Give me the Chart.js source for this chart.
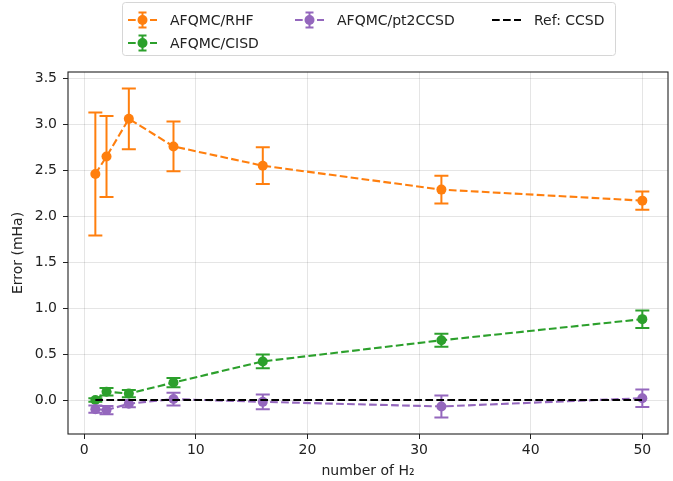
<!DOCTYPE html>
<html>
<head>
<meta charset="utf-8">
<script src="https://cdn.jsdelivr.net/npm/chart.js@4.4.1/dist/chart.umd.min.js"></script>
<style>
  html, body { margin: 0; padding: 0; background: #fff; }
</style>
</head>
<body>
<canvas id="errChart" width="673" height="481"></canvas>
<script>
// system size: number of H2 molecules
const nH2 = [1, 2, 4, 8, 16, 32, 50];

// AFQMC error relative to CCSD (mHa) with stochastic error bars
const rhfErr = [2.46, 2.65, 3.06, 2.76, 2.55, 2.29, 2.17];
const rhfSigma = [0.67, 0.44, 0.33, 0.27, 0.20, 0.15, 0.10];
const cisdErr = [0.00, 0.09, 0.07, 0.19, 0.42, 0.65, 0.88];
const cisdSigma = [0.02, 0.04, 0.04, 0.05, 0.075, 0.07, 0.095];
const pt2Err = [-0.10, -0.11, -0.04, 0.01, -0.02, -0.07, 0.02];
const pt2Sigma = [0.04, 0.045, 0.04, 0.07, 0.08, 0.12, 0.095];
const ccsdRef = [0, 0, 0, 0, 0, 0, 0];

const xTicks = [0, 10, 20, 30, 40, 50];
const yTicks = [0.0, 0.5, 1.0, 1.5, 2.0, 2.5, 3.0, 3.5];

const ORANGE = "#ff7f0e";
const GREEN = "#2ca02c";
const PURPLE = "#9467bd";
const DASH = [7.7, 3.3];

function points(ys) {
  return nH2.map((x, i) => ({ x: x, y: ys[i] }));
}

function series(label, ys, sigma, color, order) {
  return {
    label: label,
    data: points(ys),
    errorBars: sigma,
    borderColor: color,
    backgroundColor: color,
    borderWidth: 2.1,
    borderDash: DASH,
    pointRadius: 5,
    pointBorderWidth: 0,
    pointBackgroundColor: color,
    order: order,
  };
}

// vertical error bars with caps, drawn underneath each line
const errorBarPlugin = {
  id: "errorBars",
  beforeDatasetDraw(chart, args) {
    const ds = chart.data.datasets[args.index];
    if (!ds.errorBars) return;
    const ctx = chart.ctx;
    const y = chart.scales.y;
    ctx.save();
    ctx.strokeStyle = ds.borderColor;
    ctx.lineWidth = 2;
    ctx.setLineDash([]);
    args.meta.data.forEach((pt, i) => {
      const v = ds.data[i].y;
      const s = ds.errorBars[i];
      const top = y.getPixelForValue(v + s);
      const bot = y.getPixelForValue(v - s);
      ctx.beginPath();
      ctx.moveTo(pt.x, top);
      ctx.lineTo(pt.x, bot);
      ctx.moveTo(pt.x - 7, top);
      ctx.lineTo(pt.x + 7, top);
      ctx.moveTo(pt.x - 7, bot);
      ctx.lineTo(pt.x + 7, bot);
      ctx.stroke();
    });
    ctx.restore();
  },
};

// box around the plotting area
const framePlugin = {
  id: "frame",
  afterDatasetsDraw(chart) {
    const { ctx, chartArea: a } = chart;
    ctx.save();
    ctx.strokeStyle = "#222";
    ctx.lineWidth = 1.1;
    ctx.strokeRect(a.left, a.top, a.right - a.left, a.bottom - a.top);
    ctx.restore();
  },
};

// three-column legend, filled column by column
const legendPlugin = {
  id: "columnLegend",
  afterDraw(chart) {
    const ctx = chart.ctx;
    const slots = [[128, 20], [128, 43], [295, 20], [492, 20]];
    ctx.save();
    ctx.beginPath();
    ctx.roundRect(122.5, 2.5, 493, 53, 3);
    ctx.fillStyle = "rgba(255,255,255,0.8)";
    ctx.fill();
    ctx.strokeStyle = "#d6d6d6";
    ctx.lineWidth = 1;
    ctx.stroke();

    ctx.font = "14px 'DejaVu Sans'";
    ctx.textBaseline = "middle";
    chart.data.datasets.forEach((ds, i) => {
      const [x0, cy] = slots[i];
      const cx = x0 + 14.5;
      ctx.strokeStyle = ds.borderColor;
      ctx.lineWidth = 2.1;
      ctx.setLineDash(DASH);
      ctx.beginPath();
      ctx.moveTo(x0, cy);
      ctx.lineTo(x0 + 29, cy);
      ctx.stroke();
      ctx.setLineDash([]);
      if (ds.errorBars) {
        ctx.lineWidth = 2;
        ctx.beginPath();
        ctx.moveTo(cx, cy - 7.5);
        ctx.lineTo(cx, cy + 7.5);
        ctx.moveTo(cx - 4, cy - 7.5);
        ctx.lineTo(cx + 4, cy - 7.5);
        ctx.moveTo(cx - 4, cy + 7.5);
        ctx.lineTo(cx + 4, cy + 7.5);
        ctx.stroke();
        ctx.fillStyle = ds.borderColor;
        ctx.beginPath();
        ctx.arc(cx, cy, 5, 0, Math.PI * 2);
        ctx.fill();
      }
      ctx.fillStyle = "#222";
      ctx.fillText(ds.label, x0 + 42, cy + 1);
    });
    ctx.restore();
  },
};

Chart.defaults.font.family = "'DejaVu Sans', sans-serif";
Chart.defaults.font.size = 14;
Chart.defaults.color = "#222";

new Chart(document.getElementById("errChart"), {
  type: "line",
  data: {
    datasets: [
      series("AFQMC/RHF", rhfErr, rhfSigma, ORANGE, 3),
      series("AFQMC/CISD", cisdErr, cisdSigma, GREEN, 2),
      series("AFQMC/pt2CCSD", pt2Err, pt2Sigma, PURPLE, 1),
      {
        label: "Ref: CCSD",
        data: points(ccsdRef),
        borderColor: "#000",
        backgroundColor: "#000",
        borderWidth: 2.1,
        borderDash: DASH,
        pointRadius: 0,
        order: 0,
      },
    ],
  },
  options: {
    responsive: false,
    animation: false,
    layout: { padding: { left: 0, right: 5, top: 72, bottom: 0 } },
    plugins: {
      legend: { display: false },
      tooltip: { enabled: false },
    },
    scales: {
      x: {
        type: "linear",
        min: -1.45,
        max: 52.3,
        afterBuildTicks: (s) => { s.ticks = xTicks.map((v) => ({ value: v })); },
        afterFit: (s) => { s.height = 47; },
        ticks: { padding: 3, callback: (v) => String(v) },
        grid: { color: "rgba(0,0,0,0.1)", tickColor: "#222", tickLength: 5 },
        border: { display: false },
        title: { display: true, text: "number of H₂", padding: { bottom: 1 } },
      },
      y: {
        type: "linear",
        min: -0.37,
        max: 3.57,
        afterBuildTicks: (s) => { s.ticks = yTicks.map((v) => ({ value: v })); },
        afterFit: (s) => { s.width = 68; },
        ticks: { padding: 6, callback: (v) => v.toFixed(1) },
        grid: { color: "rgba(0,0,0,0.1)", tickColor: "#222", tickLength: 5 },
        border: { display: false },
        title: { display: true, text: "Error (mHa)", padding: { top: 10 } },
      },
    },
  },
  plugins: [errorBarPlugin, framePlugin, legendPlugin],
});
</script>
</body>
</html>
